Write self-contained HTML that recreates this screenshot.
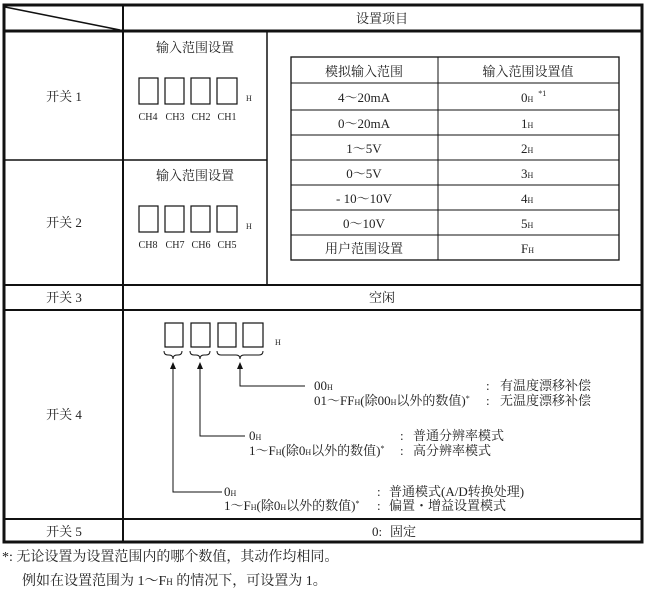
<!DOCTYPE html>
<html><head><meta charset="utf-8"><style>
html,body{margin:0;padding:0;background:#fff;}
svg{display:block;}
text{font-family:"Liberation Serif","Noto Serif CJK SC",serif;font-size:13px;fill:#222;}
.s{font-size:8px;}
.c{text-anchor:middle;}
.ch{font-size:10px;text-anchor:middle;}
</style></head><body>
<svg width="647" height="600" viewBox="0 0 647 600" xmlns="http://www.w3.org/2000/svg">
<g stroke="#111" fill="none">
<rect x="4" y="5" width="638" height="537" stroke-width="3"/>
<line x1="4" y1="31" x2="642" y2="31" stroke-width="3"/>
<line x1="123" y1="5" x2="123" y2="542" stroke-width="2"/>
<line x1="5" y1="7" x2="120" y2="30" stroke-width="1.5"/>
<line x1="267" y1="31" x2="267" y2="285" stroke-width="1.5"/>
<line x1="4" y1="160" x2="267" y2="160" stroke-width="1.5"/>
<line x1="4" y1="285" x2="642" y2="285" stroke-width="2"/>
<line x1="4" y1="310" x2="642" y2="310" stroke-width="2"/>
<line x1="4" y1="519" x2="642" y2="519" stroke-width="2"/>
<rect x="291" y="57" width="328" height="203" stroke-width="1.3"/>
<line x1="438" y1="57" x2="438" y2="260" stroke-width="1"/>
<g stroke-width="1">
<line x1="291" y1="83" x2="619" y2="83"/>
<line x1="291" y1="110" x2="619" y2="110"/>
<line x1="291" y1="135" x2="619" y2="135"/>
<line x1="291" y1="160" x2="619" y2="160"/>
<line x1="291" y1="185" x2="619" y2="185"/>
<line x1="291" y1="210" x2="619" y2="210"/>
<line x1="291" y1="235" x2="619" y2="235"/>
</g>
<g stroke-width="1.2">
<rect x="139" y="78" width="19" height="26"/><rect x="165" y="78" width="19" height="26"/><rect x="191" y="78" width="19" height="26"/><rect x="217" y="78" width="20" height="26"/>
<rect x="139" y="206" width="19" height="26"/><rect x="165" y="206" width="19" height="26"/><rect x="191" y="206" width="19" height="26"/><rect x="217" y="206" width="20" height="26"/>
<rect x="165" y="323" width="18" height="24"/><rect x="191" y="323" width="19" height="24"/><rect x="218" y="323" width="18" height="24"/><rect x="243" y="323" width="20" height="24"/>
</g>
<g stroke-width="1">
<path d="M164 351 q0 4 4 4 h1 q4 0 4 4 q0-4 4-4 h1 q4 0 4-4"/>
<path d="M190 351 q0 4 4 4 h2 q4 0 4 4 q0-4 4-4 h2 q4 0 4-4"/>
<path d="M217 351 q0 4 4 4 h15 q4 0 4 4 q0-4 4-4 h15 q4 0 4-4"/>
<polyline points="240,366 240,386 305,386"/>
<polyline points="200,366 200,436 245,436"/>
<polyline points="173,366 173,492 222,492"/>
</g>
</g>
<g fill="#111">
<polygon points="240,362 237,369 243,369"/>
<polygon points="200,362 197,369 203,369"/>
<polygon points="173,362 170,369 176,369"/>
</g>
<text x="382" y="23" class="c">设置项目</text>
<text x="64" y="101" class="c">开关 1</text>
<text x="64" y="227" class="c">开关 2</text>
<text x="64" y="302" class="c">开关 3</text>
<text x="64" y="419" class="c">开关 4</text>
<text x="64" y="536" class="c">开关 5</text>
<text x="195" y="52" class="c">输入范围设置</text>
<text x="195" y="180" class="c">输入范围设置</text>
<text x="246" y="101" class="s">H</text>
<text x="246" y="229" class="s">H</text>
<text x="275" y="345" class="s">H</text>
<text x="148" y="120" class="ch" textLength="19" lengthAdjust="spacingAndGlyphs">CH4</text>
<text x="175" y="120" class="ch" textLength="19" lengthAdjust="spacingAndGlyphs">CH3</text>
<text x="201" y="120" class="ch" textLength="19" lengthAdjust="spacingAndGlyphs">CH2</text>
<text x="227" y="120" class="ch" textLength="19" lengthAdjust="spacingAndGlyphs">CH1</text>
<text x="148" y="248" class="ch" textLength="19" lengthAdjust="spacingAndGlyphs">CH8</text>
<text x="175" y="248" class="ch" textLength="19" lengthAdjust="spacingAndGlyphs">CH7</text>
<text x="201" y="248" class="ch" textLength="19" lengthAdjust="spacingAndGlyphs">CH6</text>
<text x="227" y="248" class="ch" textLength="19" lengthAdjust="spacingAndGlyphs">CH5</text>
<text x="364" y="76" class="c">模拟输入范围</text>
<text x="528" y="76" class="c">输入范围设置值</text>
<text x="364" y="102" class="c">4～20mA</text>
<text x="364" y="128" class="c">0～20mA</text>
<text x="364" y="153" class="c">1～5V</text>
<text x="364" y="178" class="c">0～5V</text>
<text x="364" y="203" class="c">- 10～10V</text>
<text x="364" y="228" class="c">0～10V</text>
<text x="364" y="253" class="c">用户范围设置</text>
<text x="521" y="102">0<tspan class="s">H</tspan><tspan class="s" dx="5" dy="-6">*1</tspan></text>
<text x="521" y="128">1<tspan class="s">H</tspan></text>
<text x="521" y="153">2<tspan class="s">H</tspan></text>
<text x="521" y="178">3<tspan class="s">H</tspan></text>
<text x="521" y="203">4<tspan class="s">H</tspan></text>
<text x="521" y="228">5<tspan class="s">H</tspan></text>
<text x="521" y="253">F<tspan class="s">H</tspan></text>
<text x="382" y="302" class="c">空闲</text>
<g style="font-size:12px">
<text x="314" y="390">00<tspan class="s">H</tspan></text>
<text x="314" y="405">01～FF<tspan class="s">H</tspan>(除00<tspan class="s">H</tspan>以外的数值)<tspan class="s" dy="-4">*</tspan></text>
<text x="486" y="390">:</text><text x="500" y="390">有温度漂移补偿</text>
<text x="486" y="405">:</text><text x="500" y="405">无温度漂移补偿</text>
<text x="249" y="440">0<tspan class="s">H</tspan></text>
<text x="249" y="455">1～F<tspan class="s">H</tspan>(除0<tspan class="s">H</tspan>以外的数值)<tspan class="s" dy="-4">*</tspan></text>
<text x="400" y="440">:</text><text x="413" y="440">普通分辨率模式</text>
<text x="400" y="455">:</text><text x="413" y="455">高分辨率模式</text>
<text x="224" y="496">0<tspan class="s">H</tspan></text>
<text x="224" y="510">1～F<tspan class="s">H</tspan>(除0<tspan class="s">H</tspan>以外的数值)<tspan class="s" dy="-4">*</tspan></text>
<text x="377" y="496">:</text><text x="389" y="496">普通模式(A/D转换处理)</text>
<text x="377" y="510">:</text><text x="389" y="510">偏置・增益设置模式</text>
</g>
<text x="372" y="536">0:</text><text x="390" y="536">固定</text>
<text x="2" y="561" style="font-size:14px">*: 无论设置为设置范围内的哪个数值，其动作均相同。</text>
<text x="22" y="585" style="font-size:14px">例如在设置范围为 1～F<tspan style="font-size:9px">H</tspan> 的情况下，可设置为 1。</text>
</svg>
</body></html>
